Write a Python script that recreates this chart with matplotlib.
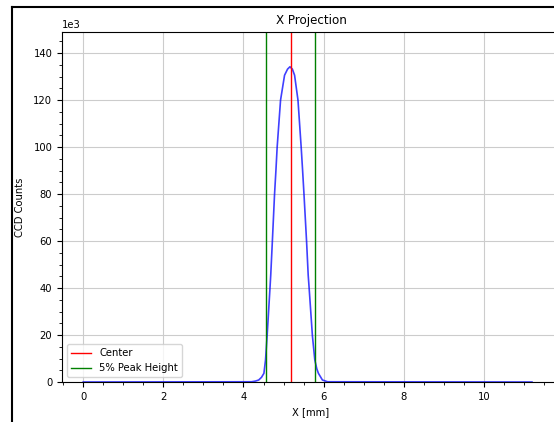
#!/usr/bin/env python3
"""Recreate the X projection plot of a CCD beam profile."""
import matplotlib
matplotlib.use("Agg")
import matplotlib.pyplot as plt
from matplotlib.lines import Line2D

# profile (x in mm, counts in thousands)
x_mm = [0.0, 4.20, 4.30, 4.38, 4.45, 4.51, 4.55, 4.59, 4.66, 4.68, 4.72,
        4.775, 4.81, 4.84, 4.925, 5.025, 5.10, 5.16, 5.22, 5.275, 5.36,
        5.44, 5.475, 5.51, 5.575, 5.615, 5.64, 5.72, 5.78, 5.83, 5.87,
        5.97, 6.10, 11.2]
counts_k = [0.0, 0.1, 0.4, 0.85, 2.0, 3.7, 9.4, 19.7, 39.6, 45.5, 59.7,
            79.9, 90.2, 99.9, 120.0, 130.6, 133.2, 134.2, 133.2, 130.6, 120.0,
            99.9, 90.2, 79.9, 59.7, 45.5, 39.6, 19.7, 9.4, 5.6, 3.7,
            0.85, 0.1, 0.0]

center_mm = 5.175
peak5_mm = [4.55, 5.775]

fig = plt.figure(figsize=(5.54, 4.22), dpi=100)
ax = fig.add_axes([62 / 554, 40 / 422, 498 / 554, 350 / 422])

ax.plot(x_mm, [c * 1e3 for c in counts_k], color="blue", lw=1.2, alpha=0.75)
ax.axvline(center_mm, color="red", lw=1.0, label="Center")
ax.axvline(peak5_mm[0], color="green", lw=1.0, label="5% Peak Height")
ax.axvline(peak5_mm[1], color="green", lw=1.0)

ax.set_xlim(-0.53, 11.9)
ax.set_ylim(0, 149e3)
ax.ticklabel_format(axis="y", style="sci", scilimits=(3, 3))
ax.minorticks_on()
ax.grid(True, which="major", color="#cccccc", lw=0.8)
ax.tick_params(labelsize=7.2)
ax.yaxis.get_offset_text().set_fontsize(7.2)

ax.set_title("X Projection", fontsize=8.6)
ax.set_xlabel("X [mm]", fontsize=7.2)
ax.set_ylabel("CCD Counts", fontsize=7.2, labelpad=6)
ax.legend(loc="lower left", fontsize=7.2)

# window frame visible in the screenshot
fig.add_artist(Line2D([12 / 554, 12 / 554], [0, 1 - 7 / 422],
                      transform=fig.transFigure, color="black", lw=1.5))
fig.add_artist(Line2D([12 / 554, 1], [1 - 7 / 422, 1 - 7 / 422],
                      transform=fig.transFigure, color="black", lw=1.5))

fig.savefig("out.png", dpi=100)
